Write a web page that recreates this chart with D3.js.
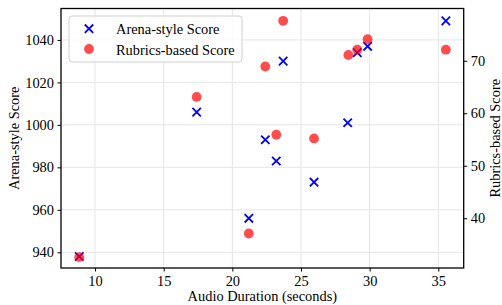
<!DOCTYPE html>
<html lang="en">
  <head>
    <meta charset="UTF-8" />
    <title>Audio duration vs scores</title>
    <style>
      body { margin: 0; background: #fff; }
      text { font-family: "Liberation Serif", "DejaVu Serif", serif; fill: #000; }
      .grid line { stroke: #e5e5e5; stroke-width: 1; }
    </style>
  </head>
  <body>
    <svg id="chart" width="502" height="305"></svg>
  </body>
  <script src="https://cdn.jsdelivr.net/npm/d3@7"></script>
  <script>
    // data
    const duration = [8.85, 17.4, 21.2, 22.4, 23.2, 23.7, 25.95, 28.4, 29.1, 29.85, 35.55];
    const arenaScore = [938, 1006, 956, 993, 983, 1030, 973, 1001, 1034, 1037, 1049];
    const rubricDuration = [8.85, 17.4, 21.2, 22.4, 23.2, 23.7, 25.95, 28.45, 29.1, 29.85, 35.55];
    const rubricScore = [32.6, 63.1, 37.1, 68.9, 55.9, 77.6, 55.2, 71.1, 72.1, 74.1, 72.1];
    const xTicks = [10, 15, 20, 25, 30, 35];
    const leftTicks = [940, 960, 980, 1000, 1020, 1040];
    const rightTicks = [40, 50, 60, 70];

    const svg = d3.select("#chart");
    const plotL = 61, plotR = 463.7, plotT = 8.5, plotB = 268;
    const fs = 14.4;

    let x = d3.scaleLinear().domain([7.52, 36.85]).range([plotL, plotR]);
    let yL = d3.scaleLinear().domain([932.6, 1054.8]).range([plotB, plotT]);
    let yR = d3.scaleLinear().domain([30.53, 79.94]).range([plotB, plotT]);

    // grid
    let grid = svg.append("g").attr("class", "grid");
    grid.selectAll("line.v").data(xTicks).enter().append("line")
      .attr("x1", d => x(d)).attr("x2", d => x(d))
      .attr("y1", plotT).attr("y2", plotB);
    grid.selectAll("line.h").data(leftTicks).enter().append("line")
      .attr("y1", d => yL(d)).attr("y2", d => yL(d))
      .attr("x1", plotL).attr("x2", plotR);

    // axes
    const styleAxis = (g) => {
      g.attr("font-family", null);
      g.selectAll("path").remove();
      g.selectAll("line").attr("stroke", "#000").attr("stroke-width", 1);
      g.selectAll("text").attr("font-size", fs);
    };
    svg.append("g").attr("transform", `translate(0,${plotB})`)
      .call(d3.axisBottom(x).tickValues(xTicks).tickFormat(d3.format("d")).tickSize(3.5).tickPadding(4))
      .call(styleAxis);
    svg.append("g").attr("transform", `translate(${plotL},0)`)
      .call(d3.axisLeft(yL).tickValues(leftTicks).tickFormat(d3.format("d")).tickSize(3.5).tickPadding(3.5))
      .call(styleAxis);
    svg.append("g").attr("transform", `translate(${plotR},0)`)
      .call(d3.axisRight(yR).tickValues(rightTicks).tickFormat(d3.format("d")).tickSize(3.5).tickPadding(3.5))
      .call(styleAxis);

    svg.append("rect")
      .attr("x", plotL).attr("y", plotT)
      .attr("width", plotR - plotL).attr("height", plotB - plotT)
      .attr("fill", "none").attr("stroke", "#000").attr("stroke-width", 1.3);

    // markers
    const cross = (g, cx, cy, s) => {
      g.append("path")
        .attr("d", `M${cx - s},${cy - s}L${cx + s},${cy + s}M${cx - s},${cy + s}L${cx + s},${cy - s}`)
        .attr("stroke", "#0000ff").attr("stroke-width", 1.8).attr("fill", "none");
    };
    let arena = svg.append("g");
    duration.forEach((d, i) => cross(arena, x(d), yL(arenaScore[i]), 4.2));

    svg.append("g").selectAll("circle").data(rubricScore).enter().append("circle")
      .attr("cx", (d, i) => x(rubricDuration[i]))
      .attr("cy", d => yR(d))
      .attr("r", 4.9)
      .attr("fill", "#ff0000")
      .attr("fill-opacity", 0.7);

    // axis titles
    svg.append("text").attr("x", (plotL + plotR) / 2).attr("y", 301)
      .attr("text-anchor", "middle").attr("font-size", fs)
      .text("Audio Duration (seconds)");
    svg.append("text")
      .attr("transform", `translate(19,${(plotT + plotB) / 2}) rotate(-90)`)
      .attr("text-anchor", "middle").attr("font-size", fs)
      .text("Arena-style Score");
    svg.append("text")
      .attr("transform", `translate(500,${(plotT + plotB) / 2}) rotate(-90)`)
      .attr("text-anchor", "middle").attr("font-size", fs)
      .text("Rubrics-based Score");

    // legend
    let legend = svg.append("g");
    legend.append("rect")
      .attr("x", 69).attr("y", 16).attr("width", 173).attr("height", 46)
      .attr("rx", 3).attr("fill", "#fff").attr("fill-opacity", 0.8)
      .attr("stroke", "#d0d0d0");
    cross(legend, 89, 28.7, 4.2);
    legend.append("circle").attr("cx", 89).attr("cy", 49).attr("r", 4.9)
      .attr("fill", "#ff0000").attr("fill-opacity", 0.7);
    legend.append("text").attr("x", 116).attr("y", 33.5).attr("font-size", fs).text("Arena-style Score");
    legend.append("text").attr("x", 116).attr("y", 54.5).attr("font-size", fs).text("Rubrics-based Score");
  </script>
</html>
